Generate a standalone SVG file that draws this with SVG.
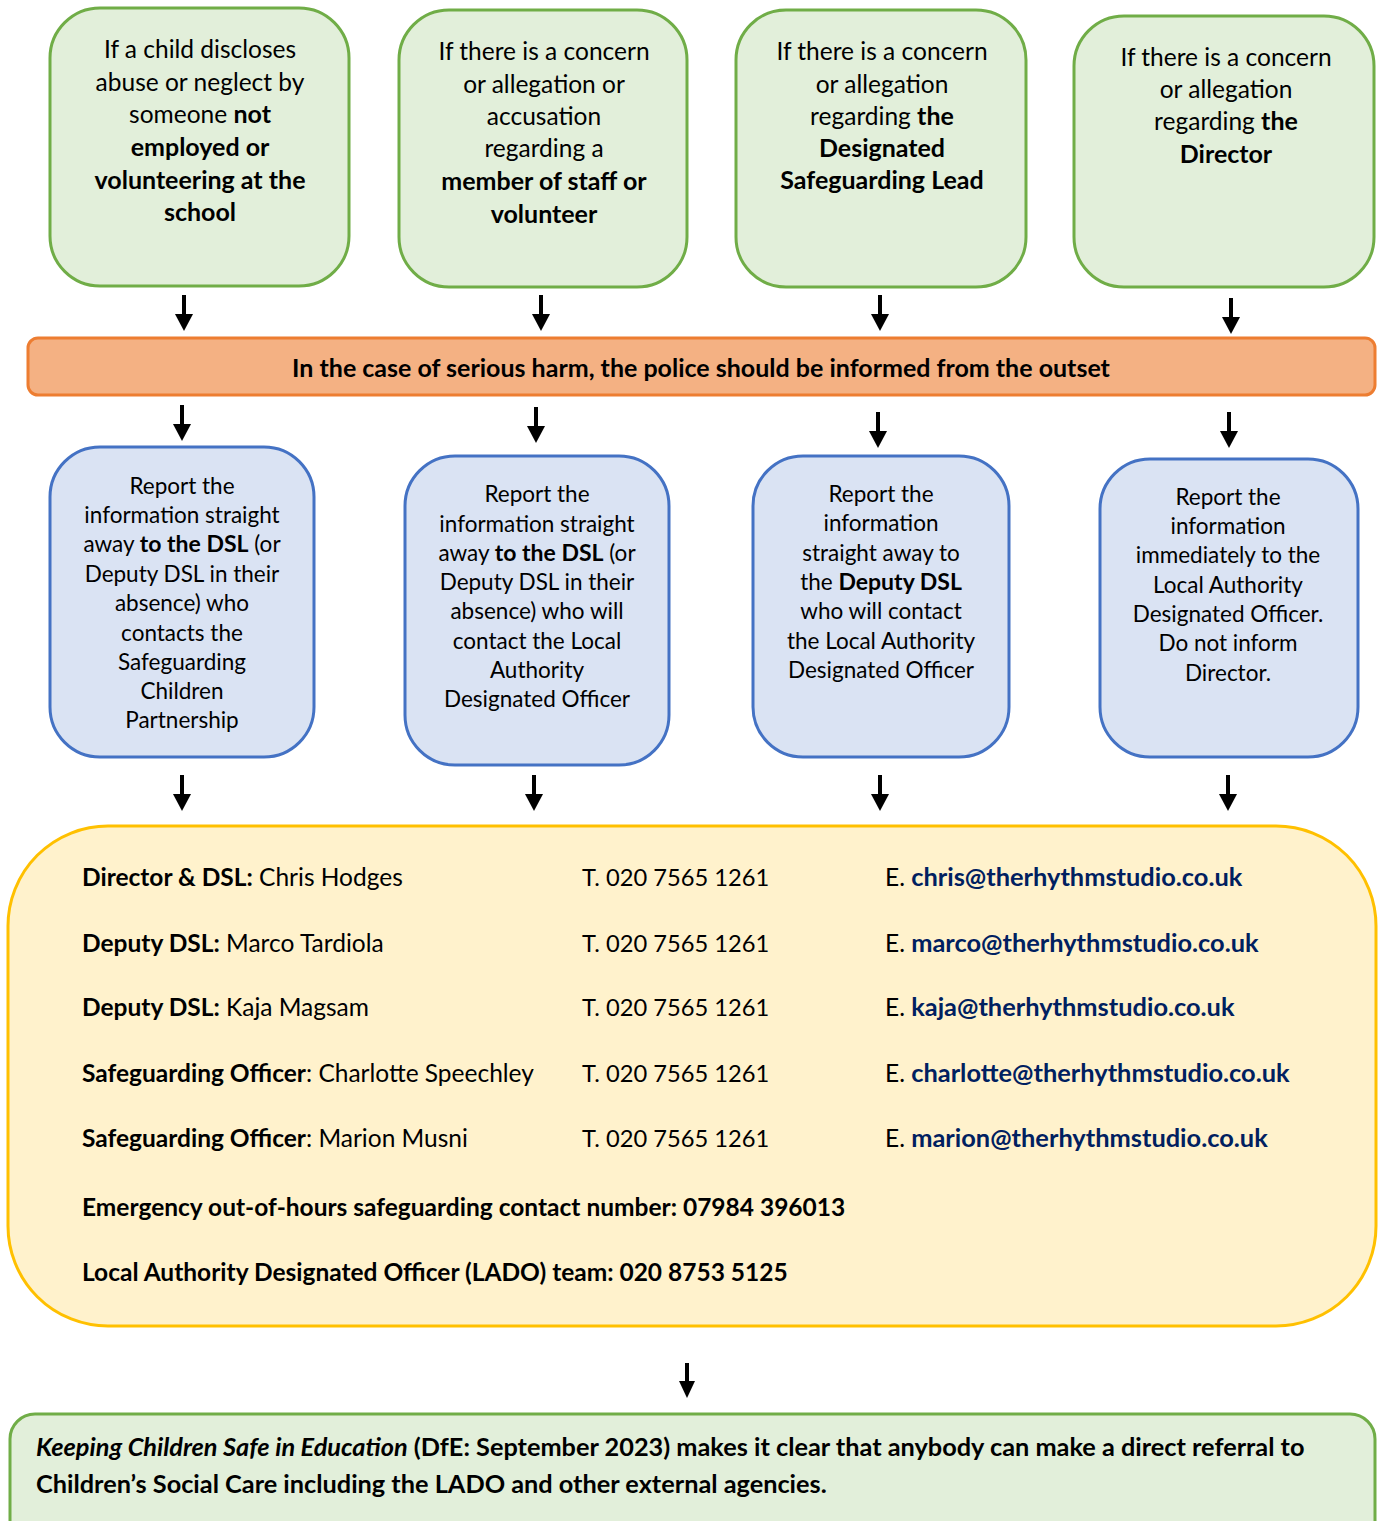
<svg xmlns="http://www.w3.org/2000/svg" width="1381" height="1521" viewBox="0 0 1381 1521">
<style>
text{font-family:Lato,"Open Sans","Liberation Sans",sans-serif;fill:#000}
.g{fill:#E2EFDA;stroke:#70AD47;stroke-width:3}
.b{fill:#DAE3F3;stroke:#4472C4;stroke-width:3}
.gt{font-size:24.5px;text-anchor:middle}
.gt .bo{font-size:25px}
.bt{font-size:22.5px;text-anchor:middle}
.bt .bo{font-size:23px}
.yt{font-size:24.5px}
.ph{font-size:23.7px}
.bo{font-weight:bold}
.em{font-weight:bold;fill:#002060;font-size:25.4px}
</style>
<rect width="1381" height="1521" fill="#fff"/>

<g id="n-g1">
<rect class="g" x="50" y="8" width="299" height="278" rx="50"/>
<text class="gt"><tspan x="200" y="58">If a child discloses</tspan><tspan x="200" y="91">abuse or neglect by</tspan><tspan x="200" y="123">someone <tspan class="bo">not</tspan></tspan><tspan x="200" y="156" class="bo">employed or</tspan><tspan x="200" y="189" class="bo">volunteering at the</tspan><tspan x="200" y="221" class="bo">school</tspan></text>
</g>
<g id="n-g2">
<rect class="g" x="399" y="10" width="288" height="277" rx="50"/>
<text class="gt"><tspan x="544" y="60">If there is a concern</tspan><tspan x="544" y="93">or allegation or</tspan><tspan x="544" y="125">accusation</tspan><tspan x="544" y="157">regarding a</tspan><tspan x="544" y="190" class="bo">member of staff or</tspan><tspan x="544" y="223" class="bo">volunteer</tspan></text>
</g>
<g id="n-g3">
<rect class="g" x="736" y="10" width="290" height="277" rx="50"/>
<text class="gt"><tspan x="882" y="60">If there is a concern</tspan><tspan x="882" y="93">or allegation</tspan><tspan x="882" y="125">regarding <tspan class="bo">the</tspan></tspan><tspan x="882" y="157" class="bo">Designated</tspan><tspan x="882" y="189" class="bo">Safeguarding Lead</tspan></text>
</g>
<g id="n-g4">
<rect class="g" x="1074" y="16" width="300" height="271" rx="50"/>
<text class="gt"><tspan x="1226" y="66">If there is a concern</tspan><tspan x="1226" y="98">or allegation</tspan><tspan x="1226" y="130">regarding <tspan class="bo">the</tspan></tspan><tspan x="1226" y="163" class="bo">Director</tspan></text>
</g>

<g id="n-police">
<rect x="28" y="338" width="1347" height="57" rx="10" fill="#F4B183" stroke="#ED7D31" stroke-width="3"/>
<text x="701" y="377" font-size="25" font-weight="bold" text-anchor="middle">In the case of serious harm, the police should be informed from the outset</text>
</g>

<g id="n-b1">
<rect class="b" x="50" y="447" width="264" height="310" rx="50"/>
<text class="bt"><tspan x="182" y="494">Report the</tspan><tspan x="182" y="523">information straight</tspan><tspan x="182" y="552">away <tspan class="bo">to the DSL</tspan> (or</tspan><tspan x="182" y="582">Deputy DSL in their</tspan><tspan x="182" y="611">absence) who</tspan><tspan x="182" y="641">contacts the</tspan><tspan x="182" y="670">Safeguarding</tspan><tspan x="182" y="699">Children</tspan><tspan x="182" y="728">Partnership</tspan></text>
</g>
<g id="n-b2">
<rect class="b" x="405" y="456" width="264" height="309" rx="50"/>
<text class="bt"><tspan x="537" y="502">Report the</tspan><tspan x="537" y="532">information straight</tspan><tspan x="537" y="561">away <tspan class="bo">to the DSL</tspan> (or</tspan><tspan x="537" y="590">Deputy DSL in their</tspan><tspan x="537" y="619">absence) who will</tspan><tspan x="537" y="649">contact the Local</tspan><tspan x="537" y="678">Authority</tspan><tspan x="537" y="707">Designated Officer</tspan></text>
</g>
<g id="n-b3">
<rect class="b" x="753" y="456" width="256" height="301" rx="50"/>
<text class="bt"><tspan x="881" y="502">Report the</tspan><tspan x="881" y="531">information</tspan><tspan x="881" y="561">straight away to</tspan><tspan x="881" y="590">the <tspan class="bo">Deputy DSL</tspan></tspan><tspan x="881" y="619">who will contact</tspan><tspan x="881" y="649">the Local Authority</tspan><tspan x="881" y="678">Designated Officer</tspan></text>
</g>
<g id="n-b4">
<rect class="b" x="1100" y="459" width="258" height="298" rx="50"/>
<text class="bt"><tspan x="1228" y="505">Report the</tspan><tspan x="1228" y="534">information</tspan><tspan x="1228" y="563">immediately to the</tspan><tspan x="1228" y="593">Local Authority</tspan><tspan x="1228" y="622">Designated Officer.</tspan><tspan x="1228" y="651">Do not inform</tspan><tspan x="1228" y="681">Director.</tspan></text>
</g>

<g id="n-contacts">
<rect x="8" y="826" width="1368" height="500" rx="100" fill="#FFF2CC" stroke="#FFC000" stroke-width="3"/>
<text class="yt" x="82" y="886"><tspan class="bo">Director &amp; DSL:</tspan> Chris Hodges</text>
<text class="yt ph" x="582" y="886">T. 020 7565 1261</text>
<text class="yt" x="885" y="886">E. <tspan class="em">chris@therhythmstudio.co.uk</tspan></text>
<text class="yt" x="82" y="952"><tspan class="bo">Deputy DSL:</tspan> Marco Tardiola</text>
<text class="yt ph" x="582" y="952">T. 020 7565 1261</text>
<text class="yt" x="885" y="952">E. <tspan class="em">marco@therhythmstudio.co.uk</tspan></text>
<text class="yt" x="82" y="1016"><tspan class="bo">Deputy DSL:</tspan> Kaja Magsam</text>
<text class="yt ph" x="582" y="1016">T. 020 7565 1261</text>
<text class="yt" x="885" y="1016">E. <tspan class="em">kaja@therhythmstudio.co.uk</tspan></text>
<text class="yt" x="82" y="1082"><tspan class="bo">Safeguarding Officer</tspan>: Charlotte Speechley</text>
<text class="yt ph" x="582" y="1082">T. 020 7565 1261</text>
<text class="yt" x="885" y="1082">E. <tspan class="em">charlotte@therhythmstudio.co.uk</tspan></text>
<text class="yt" x="82" y="1147"><tspan class="bo">Safeguarding Officer</tspan>: Marion Musni</text>
<text class="yt ph" x="582" y="1147">T. 020 7565 1261</text>
<text class="yt" x="885" y="1147">E. <tspan class="em">marion@therhythmstudio.co.uk</tspan></text>
<text class="yt bo" x="82" y="1216">Emergency out-of-hours safeguarding contact number: 07984 396013</text>
<text class="yt bo" x="82" y="1281">Local Authority Designated Officer (LADO) team: 020 8753 5125</text>
</g>

<g id="n-kcsie">
<rect x="10" y="1414" width="1365" height="140" rx="25" fill="#E2EFDA" stroke="#70AD47" stroke-width="3"/>
<text x="36" y="1456" font-size="25.3" font-weight="bold"><tspan font-style="italic">Keeping Children Safe in Education</tspan> (DfE: September 2023) makes it clear that anybody can make a direct referral to</text>
<text x="36" y="1493" font-size="25.3" font-weight="bold">Children’s Social Care including the LADO and other external agencies.</text>
</g>

<g id="connectors" stroke="#000" stroke-width="4" fill="#000">
<g>
<line x1="184" y1="295" x2="184" y2="315"/><path d="M175,314 L193,314 L184,331 Z" stroke="none"/>
<line x1="541" y1="295" x2="541" y2="315"/><path d="M532,314 L550,314 L541,331 Z" stroke="none"/>
<line x1="880" y1="295" x2="880" y2="315"/><path d="M871,314 L889,314 L880,331 Z" stroke="none"/>
<line x1="1231" y1="298" x2="1231" y2="318"/><path d="M1222,317 L1240,317 L1231,334 Z" stroke="none"/>
</g>
<g>
<line x1="182" y1="405" x2="182" y2="425"/><path d="M173,424 L191,424 L182,441 Z" stroke="none"/>
<line x1="536" y1="407" x2="536" y2="427"/><path d="M527,426 L545,426 L536,443 Z" stroke="none"/>
<line x1="878" y1="412" x2="878" y2="432"/><path d="M869,431 L887,431 L878,448 Z" stroke="none"/>
<line x1="1229" y1="412" x2="1229" y2="432"/><path d="M1220,431 L1238,431 L1229,448 Z" stroke="none"/>
</g>
<g>
<line x1="182" y1="775" x2="182" y2="795"/><path d="M173,794 L191,794 L182,811 Z" stroke="none"/>
<line x1="534" y1="775" x2="534" y2="795"/><path d="M525,794 L543,794 L534,811 Z" stroke="none"/>
<line x1="880" y1="775" x2="880" y2="795"/><path d="M871,794 L889,794 L880,811 Z" stroke="none"/>
<line x1="1228" y1="775" x2="1228" y2="795"/><path d="M1219,794 L1237,794 L1228,811 Z" stroke="none"/>
</g>
<line x1="687" y1="1363" x2="687" y2="1382"/><path d="M679,1381 L695,1381 L687,1398 Z" stroke="none"/>
</g>
</svg>
